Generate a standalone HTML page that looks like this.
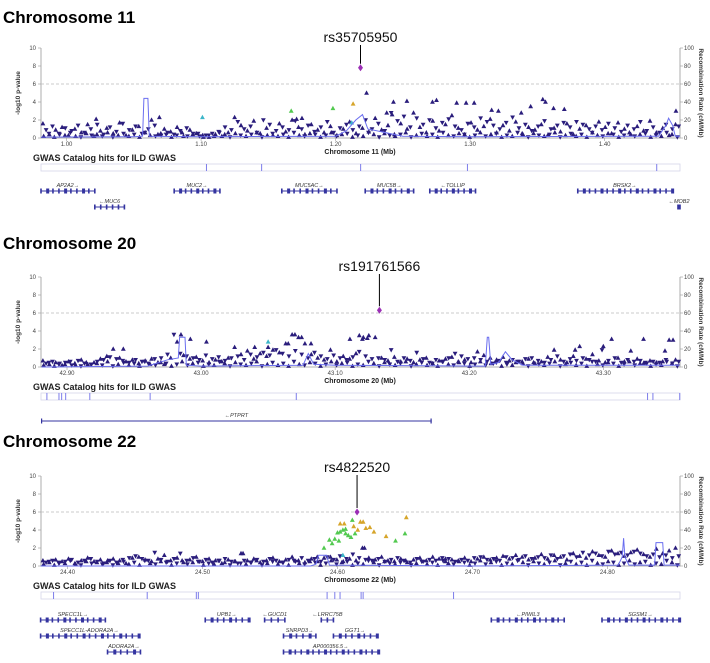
<!DOCTYPE html>
<html><head><meta charset="utf-8">
<style>
html,body{margin:0;padding:0;background:#fff;}
svg{display:block;font-family:"Liberation Sans","DejaVu Sans",Arial,sans-serif;}
</style></head>
<body>
<svg id="chart" width="710" height="663" viewBox="0 0 710 663" xmlns="http://www.w3.org/2000/svg"></svg>
<script>
// ---------- DATA ----------
const lowBand = [0.2,0.5,0.1,0.4,0.3,0.6,0.2,0.1,0.5,0.3,0.4,0.2,0.6,0.1,0.3,0.5,0.2,0.4,0.1,0.6,0.3,0.2,0.5,0.4,0.1,0.3,0.6,0.2,0.4,0.5,0.1,0.3,0.2,0.6,0.4,0.1,0.5,0.3,0.2,0.4,0.6,0.1,0.3,0.5,0.2,0.4,0.1,0.6,0.3,0.2,0.5,0.4,0.1,0.3,0.6,0.2,0.4,0.5,0.1,0.3,0.2,0.6,0.4,0.1,0.5,0.3,0.2,0.4,0.6,0.1,0.3,0.5,0.2,0.4,0.1,0.6,0.3,0.2,0.5,0.4,0.1,0.3,0.6,0.2,0.4,0.5,0.1,0.3,0.2,0.6,0.4,0.1,0.5,0.3,0.2,0.4,0.6,0.1,0.3,0.5,0.2,0.4,0.1,0.6,0.3,0.2,0.5,0.4,0.1,0.3,0.6,0.2,0.4,0.5,0.1,0.3,0.2,0.6,0.4,0.1];

// Chromosome 11
const c11Up = [1.6,0.4,0.9,1.2,0.3,1.0,0.6,1.5,0.2,0.8,1.1,0.5,1.7,0.3,0.9,1.3,0.6,2.0,0.4,1.0,0.7,1.2,0.2,0.9,0.5,0.3,0.1,0.4,0.2,0.6,2.3,1.4,0.8,1.9,0.5,1.1,0.3,1.6,0.7,2.0,1.2,0.4,1.5,0.9,0.6,1.3,0.3,1.0,1.8,0.5,1.1,0.7,2.2,0.9,1.4,0.4,1.6,1.0,2.8,1.2,0.6,1.9,0.8,1.5,2.5,1.1,0.4,1.7,0.9,1.3,2.1,0.6,1.4,0.8,1.8,0.5,1.2,0.9,1.5,0.3,1.1,0.7,1.6,0.4,1.0,1.4,0.6,1.8,1.2,0.5,1.7,1.0,0.4,1.3,0.8,1.9,0.6,1.1,0.3,1.5];
const c11Dn = [0.9,1.3,0.5,1.1,0.8,1.4,0.6,1.0,1.5,0.4,1.2,0.7,1.6,0.9,1.3,0.5,1.0,1.4,0.3,0.6,0.4,0.8,1.1,0.5,0.2,0.3,0.5,0.7,1.2,0.9,1.8,1.0,1.3,0.6,2.0,1.5,0.8,1.2,0.9,1.9,1.0,1.4,0.7,1.2,1.8,0.6,1.1,1.5,0.9,1.3,2.0,1.0,1.6,0.8,2.8,1.9,2.4,1.2,2.2,1.5,2.0,1.1,1.7,2.1,1.3,0.9,1.6,1.2,2.2,1.8,1.4,1.0,1.7,2.3,1.1,1.5,0.8,1.3,1.9,1.0,1.4,1.7,1.2,1.8,1.5,1.0,1.3,0.9,1.6,1.1,0.7,1.4,1.0,1.8,0.8,1.2,0.6,1.5,1.0,1.3];
const c11Hits = [[1.223,5.0],[1.243,4.0],[1.253,4.1],[1.272,4.0],[1.275,4.2],[1.290,3.9],[1.297,3.9],[1.303,3.9],[1.354,4.3],[1.356,4.0],[1.345,3.5],[1.362,3.3],[1.370,3.2],[1.316,3.1],[1.321,3.0],[1.338,2.8],[1.453,3.0],[1.171,2.1],[1.175,2.2],[1.069,2.3],[1.022,2.1],[1.238,2.8],[1.242,2.6]];
const c11Green = [[1.167,3.0],[1.198,3.3]];
const c11Orange = [[1.213,3.8]];
const c11Cyan = [[1.101,2.3],[1.212,1.7]];
const c11Lead = [1.2185,7.8];
const c11RecPos = [0.981,1.050,1.0565,1.0575,1.0605,1.0615,1.100,1.200,1.208,1.215,1.220,1.224,1.250,1.300,1.440,1.4455,1.4475,1.4505,1.4525,1.456];
const c11RecVal = [1,1.5,2,44,44,2,1.5,2,8,20,26,10,2,1.5,2,14,22,14,2,2];
const c11Genes = [["AP2A2→",0.981,1.021,0],["←MUC6",1.021,1.043,1],["MUC2→",1.080,1.114,0],["MUC5AC→",1.160,1.201,0],["MUC5B→",1.222,1.258,0],["←TOLLIP",1.270,1.304,0],["BRSK2→",1.380,1.450,0],["←MOB2",1.4545,1.456,1]];
const c11Gwas = [1.104,1.145,1.2186,1.298,1.4387];

// Chromosome 20
const c20Up = [0.7,0.3,0.5,0.2,0.6,0.4,0.8,0.3,0.5,0.9,1.2,2.0,1.0,0.6,0.8,0.4,0.7,0.9,0.5,0.3,1.0,2.8,1.3,0.9,1.1,0.7,0.5,0.8,0.6,1.0,2.2,1.4,1.8,0.9,1.5,1.2,1.9,1.6,2.6,3.6,3.3,2.6,1.4,1.0,0.8,1.9,0.6,1.2,0.9,1.5,3.1,3.5,3.3,1.0,0.7,1.1,0.6,0.9,0.5,0.8,1.0,0.4,0.7,0.9,1.1,0.6,0.8,0.5,1.7,1.3,1.0,0.8,1.1,0.7,0.5,0.6,0.9,0.4,0.6,1.1,1.9,0.8,0.5,1.2,2.3,0.9,1.4,0.7,0.5,3.1,1.0,0.6,1.8,0.9,0.4,0.7,0.5,0.6,3.0,0.8];
const c20Dn = [0.4,0.6,0.3,0.5,0.2,0.7,0.4,0.3,0.6,0.8,1.1,0.9,0.7,0.5,0.8,0.6,0.4,0.9,1.0,1.4,3.6,1.5,1.2,1.0,0.8,1.3,0.9,1.1,0.7,1.0,1.2,0.8,1.4,1.1,1.6,1.3,1.9,1.5,1.2,1.8,1.4,1.0,1.6,1.2,0.9,1.3,1.0,0.8,1.1,1.7,1.2,0.9,1.0,0.8,1.9,0.6,1.0,0.7,1.6,0.9,0.5,0.8,0.6,1.0,1.5,1.2,0.9,1.0,0.8,0.6,0.4,0.7,0.5,0.8,0.6,0.9,1.0,0.7,0.5,0.8,1.2,0.6,0.9,0.7,1.0,0.8,0.6,1.9,0.7,1.0,0.5,0.8,0.6,0.7,0.4,0.6,0.5,0.8,0.4,0.6];
const c20Hits = [[42.985,3.6],[42.992,3.1],[43.004,2.8],[42.942,2.0],[43.040,2.2],[43.050,2.2],[43.065,2.6],[43.070,3.6],[43.075,3.3],[43.082,2.6],[43.118,3.5],[43.121,3.3],[43.111,3.1],[43.124,3.2],[43.300,2.3],[43.330,3.1],[43.352,3.0],[43.279,1.9],[43.346,1.8]];
const c20Green = [];
const c20Orange = [];
const c20Cyan = [[43.050,2.8]];
const c20Lead = [43.133,6.3];
const c20RecPos = [42.881,42.960,42.975,42.983,42.984,42.988,42.989,43.000,43.076,43.080,43.084,43.100,43.212,43.2135,43.2145,43.216,43.222,43.227,43.232,43.240,43.357];
const c20RecVal = [0,1,8,10,33,33,2,1,2,15,3,2,1,33,33,3,5,17,8,2,2];
const c20Genes = [["←PTPRT",42.8806,43.172,0]];
const c20Gwas = [42.885,42.894,42.896,42.899,42.917,42.962,43.071,43.333,43.337,43.357];

// Chromosome 22
const c22Up = [0.6,0.4,0.7,0.5,0.8,0.3,0.6,0.9,0.5,0.7,0.4,0.8,0.6,0.3,0.9,1.0,0.7,0.5,0.8,1.2,0.6,0.9,0.4,0.7,1.0,0.5,0.8,0.6,0.3,0.7,0.5,1.4,0.6,0.8,0.4,0.6,0.9,0.5,0.7,1.0,0.6,0.4,0.8,0.5,0.9,1.0,0.7,0.5,0.8,0.6,2.0,0.9,0.7,1.0,0.6,0.5,0.8,0.4,0.7,0.9,0.6,1.0,0.8,0.5,0.7,0.6,0.9,0.5,0.8,1.0,0.7,0.9,1.1,0.8,1.2,1.0,0.7,0.9,1.3,0.8,1.2,1.0,0.7,1.4,1.1,0.9,1.6,1.2,1.0,1.7,1.4,1.1,1.5,1.8,1.3,1.0,1.9,1.4,1.7,2.0];
const c22Dn = [0.4,0.6,0.3,0.5,0.7,0.4,0.6,0.8,0.5,0.3,0.6,0.4,0.7,0.9,1.1,0.8,0.6,1.5,0.7,0.5,0.8,1.4,0.6,0.9,0.5,0.7,0.4,0.6,0.8,0.5,0.3,0.6,0.4,0.7,0.5,0.8,0.6,0.4,0.7,0.5,0.9,0.6,0.8,0.5,1.0,0.7,1.1,0.8,1.3,0.9,0.7,0.6,0.8,0.5,0.7,0.9,0.6,0.4,0.8,0.5,0.7,0.6,0.9,0.8,0.5,0.7,0.6,0.9,1.0,0.7,0.8,0.6,1.0,0.9,0.7,1.1,0.8,1.0,0.9,1.2,0.8,1.1,1.3,1.0,1.5,1.2,1.4,1.1,1.6,1.3,1.5,1.2,1.6,1.4,1.1,1.3,1.0,1.2,0.9,1.1];
const c22Hits = [[24.620,2.0],[24.530,1.4],[24.585,1.0],[24.680,0.8]];
const c22Green = [[24.611,5.1],[24.602,3.8],[24.604,4.0],[24.600,3.7],[24.606,3.6],[24.598,3.0],[24.594,2.9],[24.590,2.0],[24.596,2.5],[24.608,3.4],[24.610,3.2],[24.601,2.8],[24.613,3.6],[24.643,2.8],[24.650,3.6],[24.606,4.1]];
const c22Orange = [[24.602,4.7],[24.605,4.7],[24.617,4.9],[24.619,4.9],[24.612,4.4],[24.621,4.2],[24.624,4.3],[24.627,3.8],[24.615,4.0],[24.636,3.3],[24.651,5.4]];
const c22Cyan = [[24.604,1.2]];
const c22Lead = [24.6145,6.0];
const c22RecPos = [24.380,24.580,24.584,24.586,24.592,24.594,24.700,24.808,24.811,24.812,24.813,24.816,24.835,24.836,24.838,24.841,24.842,24.8538];
const c22RecVal = [0,0,2,12,12,1,0,1,10,31,10,1,1,26,26,26,1,1];
const c22Genes = [["SPECC1L→",24.380,24.428,0],["SPECC1L-ADORA2A→",24.380,24.4525,1],["ADORA2A→",24.4296,24.454,2],["UPB1→",24.502,24.534,0],["←GUCD1",24.546,24.561,0],["←LRRC75B",24.588,24.597,0],["SNRPD3→",24.560,24.584,1],["GGT1→",24.597,24.629,1],["AP000356.5→",24.560,24.630,2],["←PIWIL3",24.714,24.768,0],["SGSM1→",24.796,24.853,0]];
const c22Gwas = [24.3896,24.459,24.4954,24.4969,24.5923,24.598,24.6019,24.6175,24.619,24.686];

// ---------- DRAW ----------
const NS = "http://www.w3.org/2000/svg";
const svg = document.getElementById('chart');
const NAVY = "#2a1d7c", LEAD="#9b2fb5", GREEN="#52c94f", ORANGE="#d6a52a", CYAN="#3cb6c9", REC="#6a6ef0", GENE="#3434a0";

function mk(tag, attrs, parent, text){
  const e = document.createElementNS(NS, tag);
  for (const k in attrs) e.setAttribute(k, attrs[k]);
  if (text !== undefined) e.textContent = text;
  (parent || svg).appendChild(e);
  return e;
}

function panel(cfg){
  const L=41, R=680, top=cfg.top, H=90, bot=top+H;
  const x = v => L + (v-cfg.xmin)/(cfg.xmax-cfg.xmin)*(R-L);
  const y = v => bot - v/10*H;
  const yr = v => bot - v/100*H;
  const g = mk('g', {});
  
  

  const t = mk('text', {x:3, y:cfg.titleY, 'font-size':17, 'font-weight':'bold', fill:'#000'}, g, cfg.title);
  
  

  const ax = mk('path', {d:`M${L},${top} V${bot} H${R} V${top}`, stroke:'#999', 'stroke-width':0.8, fill:'none'}, g);
  
  
  for (let v=0; v<=10; v+=2){
    mk('line', {x1:L-3, x2:L, y1:y(v), y2:y(v), stroke:'#999','stroke-width':0.6}, g);
    const tl = mk('text', {x:L-5, y:y(v)+2, 'font-size':6, 'text-anchor':'end', fill:'#444'}, g, String(v));
    
    
    mk('line', {x1:R, x2:R+3, y1:y(v), y2:y(v), stroke:'#999','stroke-width':0.6}, g);
    const tr = mk('text', {x:R+4, y:y(v)+2, 'font-size':6, fill:'#444'}, g, String(v*10));
    
    
  }
  const yt = mk('text', {transform:`translate(20,${top+H/2}) rotate(-90)`, 'font-size':6.5, 'font-weight':'bold', 'text-anchor':'middle', fill:'#333'}, g, '-log10 p-value');
  
  
  const yt2 = mk('text', {transform:`translate(699,${top+H/2}) rotate(90)`, 'font-size':6.5, 'font-weight':'bold', 'text-anchor':'middle', fill:'#333'}, g, 'Recombination Rate (cM/Mb)');
  
  
  cfg.ticks.forEach(tv=>{
    mk('line', {x1:x(tv), x2:x(tv), y1:bot, y2:bot+3, stroke:'#999','stroke-width':0.6}, g);
    const xl = mk('text', {x:x(tv), y:bot+8, 'font-size':6, 'text-anchor':'middle', fill:'#444'}, g, tv.toFixed(2));
    
    
  });
  const xt = mk('text', {x:360, y:bot+16, 'font-size':7, 'font-weight':'bold', 'text-anchor':'middle', fill:'#222'}, g, cfg.xlabel);
  
  

  const th = mk('line', {x1:L, x2:R, y1:y(6), y2:y(6), stroke:'#bbb', 'stroke-width':0.7, 'stroke-dasharray':'3,2'}, g);
  
  

  const tri = (px,py,up,col,name)=>{
    const d = up ? `M${px},${py-2.6} L${px-2.4},${py+1.8} L${px+2.4},${py+1.8}Z` : `M${px},${py+2.6} L${px-2.4},${py-1.8} L${px+2.4},${py-1.8}Z`;
    const p = mk('path', {d, fill:col}, g);
    
    
  };
  lowBand.forEach((v,i)=>{ tri(x(cfg.xmin + (i+0.5)/lowBand.length*(cfg.xmax-cfg.xmin)), y(v), i%2===0, NAVY, 'snp-point'); });
  cfg.up.forEach((v,i)=>{ tri(x(cfg.xmin + (i+0.3)/cfg.up.length*(cfg.xmax-cfg.xmin)), y(v), true, NAVY, 'snp-point'); });
  cfg.dn.forEach((v,i)=>{ tri(x(cfg.xmin + (i+0.8)/cfg.dn.length*(cfg.xmax-cfg.xmin)), y(v), false, NAVY, 'snp-point'); });
  cfg.hits.forEach(h=>tri(x(h[0]), y(h[1]), true, NAVY, 'snp-point'));
  cfg.green.forEach(h=>tri(x(h[0]), y(h[1]), true, GREEN, 'snp-point-ld-high'));
  cfg.orange.forEach(h=>tri(x(h[0]), y(h[1]), true, ORANGE, 'snp-point-ld-top'));
  cfg.cyan.forEach(h=>tri(x(h[0]), y(h[1]), true, CYAN, 'snp-point-ld-low'));

  const rd = cfg.recPos.map((p,i)=>(i?'L':'M')+x(p).toFixed(1)+','+yr(cfg.recVal[i]).toFixed(1)).join(' ');
  const rl = mk('path', {d:rd, fill:'none', stroke:REC, 'stroke-width':1}, g);
  
  

  const lx = x(cfg.lead[0]), ly = y(cfg.lead[1]);
  mk('line', {x1:lx, x2:lx, y1:cfg.rsY+3, y2:ly-4, stroke:'#000', 'stroke-width':1}, g);
  const dm = mk('path', {d:`M${lx},${ly-3.5} L${lx+2.5},${ly} L${lx},${ly+3.5} L${lx-2.5},${ly}Z`, fill:LEAD}, g);
  
  
  const rs = mk('text', {x:lx, y:cfg.rsY, 'font-size':14, 'text-anchor':'middle', fill:'#111'}, g, cfg.rs);
  
  

  const gy = bot + 26;
  const gt = mk('text', {x:33, y:gy-3, 'font-size':9, 'font-weight':'bold', fill:'#222'}, g, 'GWAS Catalog hits for ILD GWAS');
  
  
  const gb = mk('rect', {x:L, y:gy, width:R-L, height:7, fill:'#fff', stroke:'#d6d6ea', 'stroke-width':0.8}, g);
  
  
  cfg.gwas.forEach(p=>{
    const hl = mk('line', {x1:x(p), x2:x(p), y1:gy, y2:gy+7, stroke:'#7d7dea', 'stroke-width':1}, g);
    
    
  });

  cfg.genes.forEach(gn=>{
    const ly2 = cfg.geneRows[gn[3]];
    const x1 = x(gn[1]), x2 = x(gn[2]);
    const gg = mk('g', {}, g);
    
    
    mk('line', {x1, x2, y1:ly2, y2:ly2, stroke:GENE, 'stroke-width':0.9}, gg);
    const w = x2-x1;
    if (w < 200) {
      const n = Math.max(2, Math.round(w/6));
      for (let k=0;k<=n;k++){
        const ex = x1 + w*k/n;
        mk('rect', {x:ex-0.8, y:ly2-2.5, width:(k%3===1 && w>30)?3:1.6, height:5, fill:GENE}, gg);
      }
    } else {
      mk('rect', {x:x1, y:ly2-2.5, width:1.2, height:5, fill:GENE}, gg);
      mk('rect', {x:x2-1.2, y:ly2-2.5, width:1.2, height:5, fill:GENE}, gg);
    }
    mk('text', {x:(x1+x2)/2, y:ly2-4, 'font-size':5.5, 'font-style':'italic', 'text-anchor':'middle', fill:'#333', 'font-family':'"Liberation Sans","DejaVu Sans",sans-serif'}, gg, gn[0]);
  });
}

panel({id:'chr11', title:'Chromosome 11', titleY:23, top:48, rs:'rs35705950', rsY:42, xmin:0.981, xmax:1.456,
  ticks:[1.00,1.10,1.20,1.30,1.40], xlabel:'Chromosome 11 (Mb)', up:c11Up, dn:c11Dn, hits:c11Hits, green:c11Green, orange:c11Orange, cyan:c11Cyan,
  lead:c11Lead, recPos:c11RecPos, recVal:c11RecVal, genes:c11Genes, gwas:c11Gwas, geneRows:[191,207]});
panel({id:'chr20', title:'Chromosome 20', titleY:249, top:277, rs:'rs191761566', rsY:271, xmin:42.8806, xmax:43.3572,
  ticks:[42.90,43.00,43.10,43.20,43.30], xlabel:'Chromosome 20 (Mb)', up:c20Up, dn:c20Dn, hits:c20Hits, green:c20Green, orange:c20Orange, cyan:c20Cyan,
  lead:c20Lead, recPos:c20RecPos, recVal:c20RecVal, genes:c20Genes, gwas:c20Gwas, geneRows:[421]});
panel({id:'chr22', title:'Chromosome 22', titleY:447, top:476, rs:'rs4822520', rsY:472, xmin:24.3803, xmax:24.8538,
  ticks:[24.40,24.50,24.60,24.70,24.80], xlabel:'Chromosome 22 (Mb)', up:c22Up, dn:c22Dn, hits:c22Hits, green:c22Green, orange:c22Orange, cyan:c22Cyan,
  lead:c22Lead, recPos:c22RecPos, recVal:c22RecVal, genes:c22Genes, gwas:c22Gwas, geneRows:[620,636,652]});
</script>
</body></html>
